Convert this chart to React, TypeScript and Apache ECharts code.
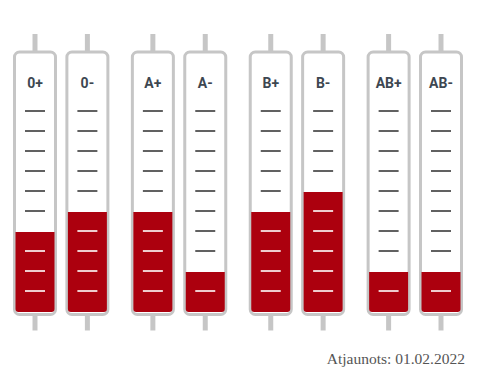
import React, { useEffect, useRef } from "react";
import * as echarts from "echarts";

const bloodTypes = ["0+", "0-", "A+", "A-", "B+", "B-", "AB+", "AB-"];
const levels = [40, 50, 50, 20, 50, 60, 20, 20];
const tickValues = [10, 20, 30, 40, 50, 60, 70, 80, 90, 100];
const updatedText = "Atjaunots: 01.02.2022";

export default function App() {
  const ref = useRef<HTMLDivElement>(null);
  useEffect(() => {
    document.body.style.margin = "0";
    const chart = echarts.init(ref.current!, null, { renderer: "svg" });
    const data = bloodTypes.map((t, i) => [i + 0.25 * Math.floor(i / 2), levels[i], t]);
    const option: any = {
      animation: false,
      backgroundColor: "#ffffff",
      grid: { left: 35, right: 49, top: 112, bottom: 58 },
      xAxis: { type: "value", min: 0, max: 7.75, show: false },
      yAxis: { type: "value", min: 0, max: 100, show: false },
      graphic: [
        {
          type: "text",
          x: 465,
          y: 358,
          style: {
            text: updatedText,
            fill: "#555555",
            font: "15.5px 'Liberation Serif'",
            align: "right",
            verticalAlign: "middle",
          },
        },
      ],
      series: [
        {
          type: "custom",
          data,
          renderItem: (params: any, api: any) => {
            const x = api.value(0);
            const v = api.value(1);
            const label = bloodTypes[params.dataIndex];
            const base = api.coord([x, 0]);
            const top = api.coord([x, v]);
            const full = api.coord([x, 100]);
            const cx = base[0];
            const y0 = base[1];
            const yFull = full[1];
            const tubeTop = yFull - 60;
            const tubeBottom = y0 + 2.5;
            const children: any[] = [];
            children.push({
              type: "rect",
              shape: { x: cx - 2.5, y: tubeTop - 18, width: 5, height: 19 },
              style: { fill: "#c6c6c6" },
            });
            children.push({
              type: "rect",
              shape: { x: cx - 2.5, y: tubeBottom - 1, width: 5, height: 17 },
              style: { fill: "#c6c6c6" },
            });
            children.push({
              type: "rect",
              shape: { x: cx - 20.5, y: tubeTop, width: 41, height: tubeBottom - tubeTop, r: 5 },
              style: { fill: "#ffffff", stroke: "#c6c6c6", lineWidth: 3 },
            });
            children.push({
              type: "rect",
              shape: { x: cx - 19.5, y: top[1], width: 39, height: y0 - top[1], r: [0, 0, 3, 3] },
              style: { fill: "#ac000e" },
            });
            tickValues.forEach((tv) => {
              if (tv === v) return;
              const p = api.coord([x, tv]);
              const inside = tv < v;
              children.push({
                type: "line",
                shape: { x1: cx - 10, y1: p[1] - 1, x2: cx + 10, y2: p[1] - 1 },
                style: { stroke: inside ? "#ffffff" : "#3a3a3a", lineWidth: 1.6 },
              });
            });
            children.push({
              type: "text",
              x: cx,
              y: tubeTop + 31,
              style: {
                text: label,
                fill: "#3d4751",
                font: "bold 14px Roboto",
                align: "center",
                verticalAlign: "middle",
              },
            });
            return { type: "group", children };
          },
        },
      ],
    };
    chart.setOption(option);
    return () => chart.dispose();
  }, []);
  return <div ref={ref} style={{ width: 490, height: 370 }} />;
}
